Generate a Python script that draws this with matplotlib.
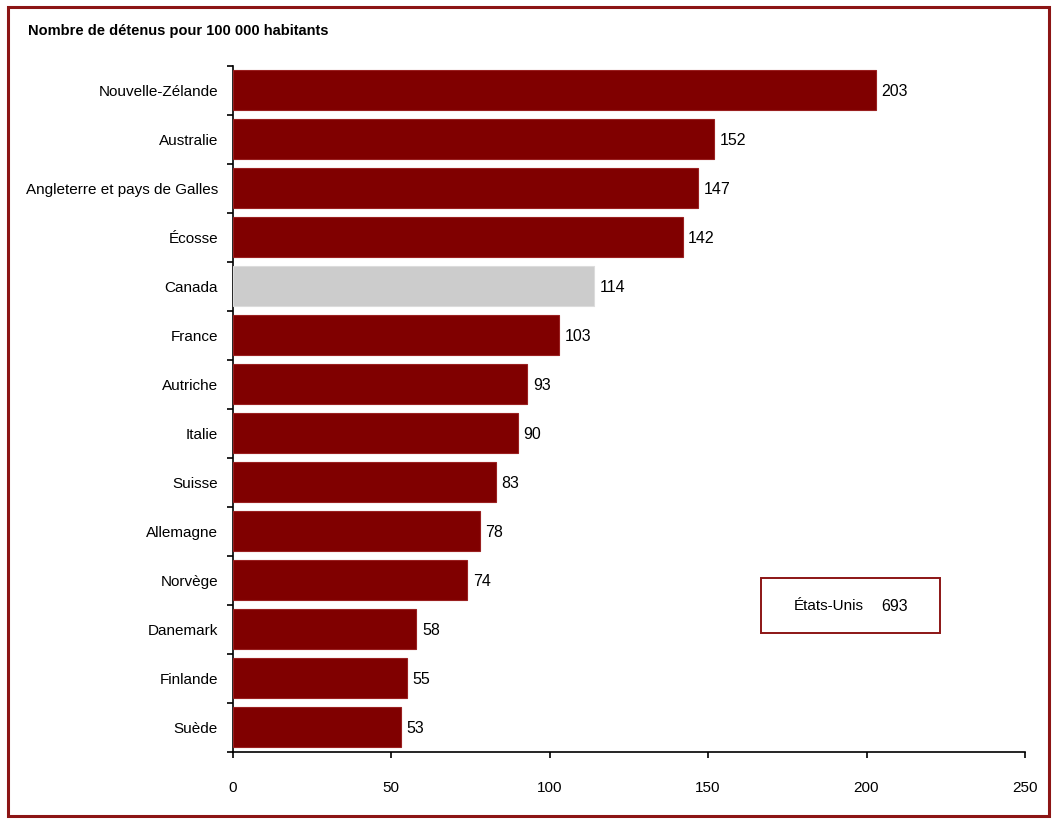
import matplotlib
matplotlib.use("Agg")
import matplotlib.pyplot as plt
from matplotlib.patches import Rectangle
import numpy as np

plt.rcParams['font.family'] = ['Liberation Sans', 'DejaVu Sans']

countries = ["Nouvelle-Zélande", "Australie", "Angleterre et pays de Galles", "Écosse",
             "Canada", "France", "Autriche", "Italie", "Suisse", "Allemagne",
             "Norvège", "Danemark", "Finlande", "Suède"]
values = [203, 152, 147, 142, 114, 103, 93, 90, 83, 78, 74, 58, 55, 53]
highlight = "Canada"
title = "Nombre de détenus pour 100 000 habitants"
us_label = "États-Unis"
us_value = 693
xticks = [0, 50, 100, 150, 200, 250]

W, H = 1055, 821
fig = plt.figure(figsize=(W / 100, H / 100), dpi=100)
ax = fig.add_axes([232.5 / W, 1 - 751.5 / H, (1025 - 232.5) / W, (751.5 - 65.5) / H])

red = "#800000"
n = len(countries)
y = np.arange(n)
colors = ["#cccccc" if c == highlight else red for c in countries]
edges = ["#dcdcdc" if c == highlight else "#9a2020" for c in countries]
ax.barh(y, values, height=0.8, color=colors, edgecolor=edges, linewidth=0.8, zorder=3)

for yi, v in zip(y, values):
    ax.annotate(str(v), (v, yi), xytext=(4, -1), textcoords="offset points",
                ha="left", va="center", fontsize=11.5, color="black")

ax.set_ylim(n - 0.5, -0.5)
ax.set_xlim(0, 250)
ax.set_yticks(y)
ax.set_yticklabels(countries, fontsize=11)
ax.set_yticks(np.arange(n + 1) - 0.5, minor=True)
ax.tick_params(axis="y", which="major", length=0, pad=10.5)
ax.tick_params(axis="y", which="minor", length=4, width=1.2, direction="out")
ax.set_xticks(xticks)
ax.set_xticklabels([str(t) for t in xticks], fontsize=11)
ax.tick_params(axis="x", which="major", length=4.5, width=1.2, direction="out", pad=17)

for s in ["top", "right"]:
    ax.spines[s].set_visible(False)
for s in ["left", "bottom"]:
    ax.spines[s].set_linewidth(1.2)
    ax.spines[s].set_color("black")

fig.text(28 / W, 1 - 31 / H, title, fontsize=10.5, fontweight="bold", ha="left", va="center")

# Legend-like box for United States
box = Rectangle((761 / W, 1 - 633 / H), (940 - 761) / W, (633 - 578) / H,
                transform=fig.transFigure, facecolor="white", edgecolor="#8c1515",
                linewidth=1.4, zorder=5)
fig.patches.append(box)
fig.text(829 / W, 1 - 606 / H, us_label, fontsize=11, ha="center", va="center", zorder=6)
fig.text(895 / W, 1 - 606 / H, str(us_value), fontsize=11.5, ha="center", va="center", zorder=6)

# Outer frame
frame = Rectangle((8 / W, 1 - 816 / H), (1049 - 8) / W, (816 - 7) / H,
                  transform=fig.transFigure, facecolor="none", edgecolor="#8c1515",
                  linewidth=2.2, zorder=10)
fig.patches.append(frame)

fig.savefig("out.png", dpi=100)
